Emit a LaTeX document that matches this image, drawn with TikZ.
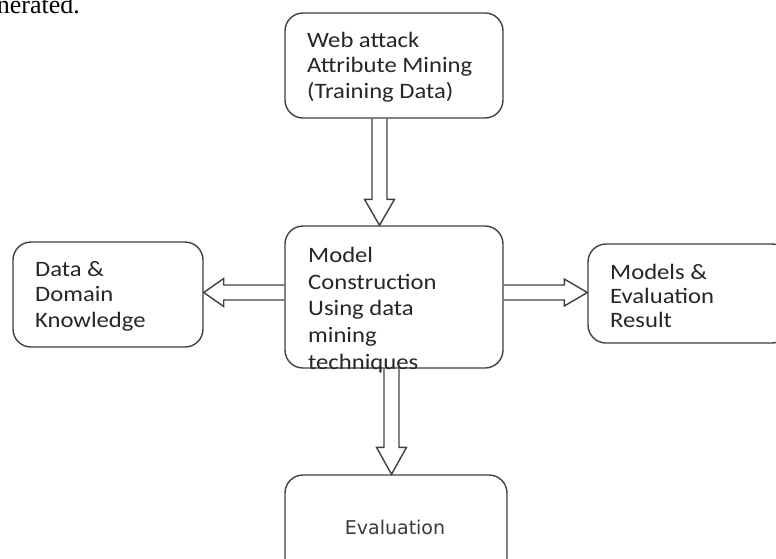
\documentclass[tikz,border=0pt]{standalone}
\usepackage{fontspec}
\setmainfont{Carlito}[FakeStretch=1.12]
\newfontfamily\evalfont{DejaVu Sans}
\newfontfamily\serifpart{Liberation Serif}
\usetikzlibrary{calc}
\definecolor{linec}{HTML}{404040}
\definecolor{textc}{HTML}{262626}
\definecolor{evalc}{HTML}{3a3a3a}
\tikzset{
  box/.style={draw=linec, line width=1.4pt, rounded corners=18pt, fill=white, inner sep=0pt},
  lbl/.style={anchor=west, align=left, inner sep=0pt, text=textc, font=\fontsize{22}{25.5}\selectfont},
  arr/.style={draw=linec, line width=1.4pt, line join=miter},
}
\newcommand{\blockarr}[5]{%
  \coordinate (ba-h) at ($(#2)!#5!(#1)$);
  \draw[arr] ($(#1)!#3!90:(#2)$) -- ($(ba-h)!#3!-90:(#1)$) -- ($(ba-h)!#4!-90:(#1)$) -- (#2)
     -- ($(ba-h)!#4!90:(#1)$) -- ($(ba-h)!#3!90:(#1)$) -- ($(#1)!#3!-90:(#2)$);}
\begin{document}
\begin{tikzpicture}[x=1pt,y=-1pt]
\useasboundingbox (0,0) rectangle (776,558);
\clip (0,0) rectangle (776,558);
% fragment of preceding text
\node[font=\serifpart\fontsize{26}{30}\selectfont, anchor=base east, inner sep=0pt, text=black] (frag) at (80,13) {nerated.};
% boxes
\node[box, minimum width=218pt, minimum height=105pt] (top) at (394,65.5) {};
\node[box, minimum width=218pt, minimum height=142pt] (mid) at (394,297) {};
\node[box, minimum width=190pt, minimum height=105pt] (left) at (108,294.5) {};
\node[box, minimum width=202pt, minimum height=99pt] (right) at (689,293.5) {};
\node[box, minimum width=222pt, minimum height=120pt] (bot) at (396,535) {};
% arrow axes
\coordinate (ax1) at (379.5,0);
\coordinate (ax3) at (391.5,0);
\coordinate (ay) at (0,292.5);
\coordinate (a1s) at (top.south -| ax1);
\coordinate (a1e) at (mid.north -| ax1);
\coordinate (a3s) at (mid.south -| ax3);
\coordinate (a3e) at (bot.north -| ax3);
\coordinate (a2s) at (mid.west |- ay);
\coordinate (a2e) at (left.east |- ay);
\coordinate (a4s) at (mid.east |- ay);
\coordinate (a4e) at (right.west |- ay);
\blockarr{a1s}{a1e}{7.5pt}{15pt}{26pt}
\blockarr{a3s}{a3e}{7.5pt}{15pt}{27pt}
\blockarr{a2s}{a2e}{7.5pt}{14pt}{20pt}
\blockarr{a4s}{a4e}{7.5pt}{13.5pt}{23pt}
% texts
\node[lbl] (ttop) at (307,67) {Web attack\\Attribute Mining\\(Training Data)};
\node[lbl, font=\fontsize{22}{26.7}\selectfont] (tmid) at (308,310) {Model\\Construction\\Using data\\mining\\techniques};
\node[lbl] (tleft) at (35,296) {Data \&\\Domain\\Knowledge};
\node[lbl, font=\fontsize{22}{24}\selectfont] (tright) at (610,296) {Models \&\\Evaluation\\Result};
\node[font=\evalfont\fontsize{19}{22}\selectfont, text=evalc, inner sep=0pt] (teval) at (395,527) {Evaluation};
\end{tikzpicture}
\end{document}
